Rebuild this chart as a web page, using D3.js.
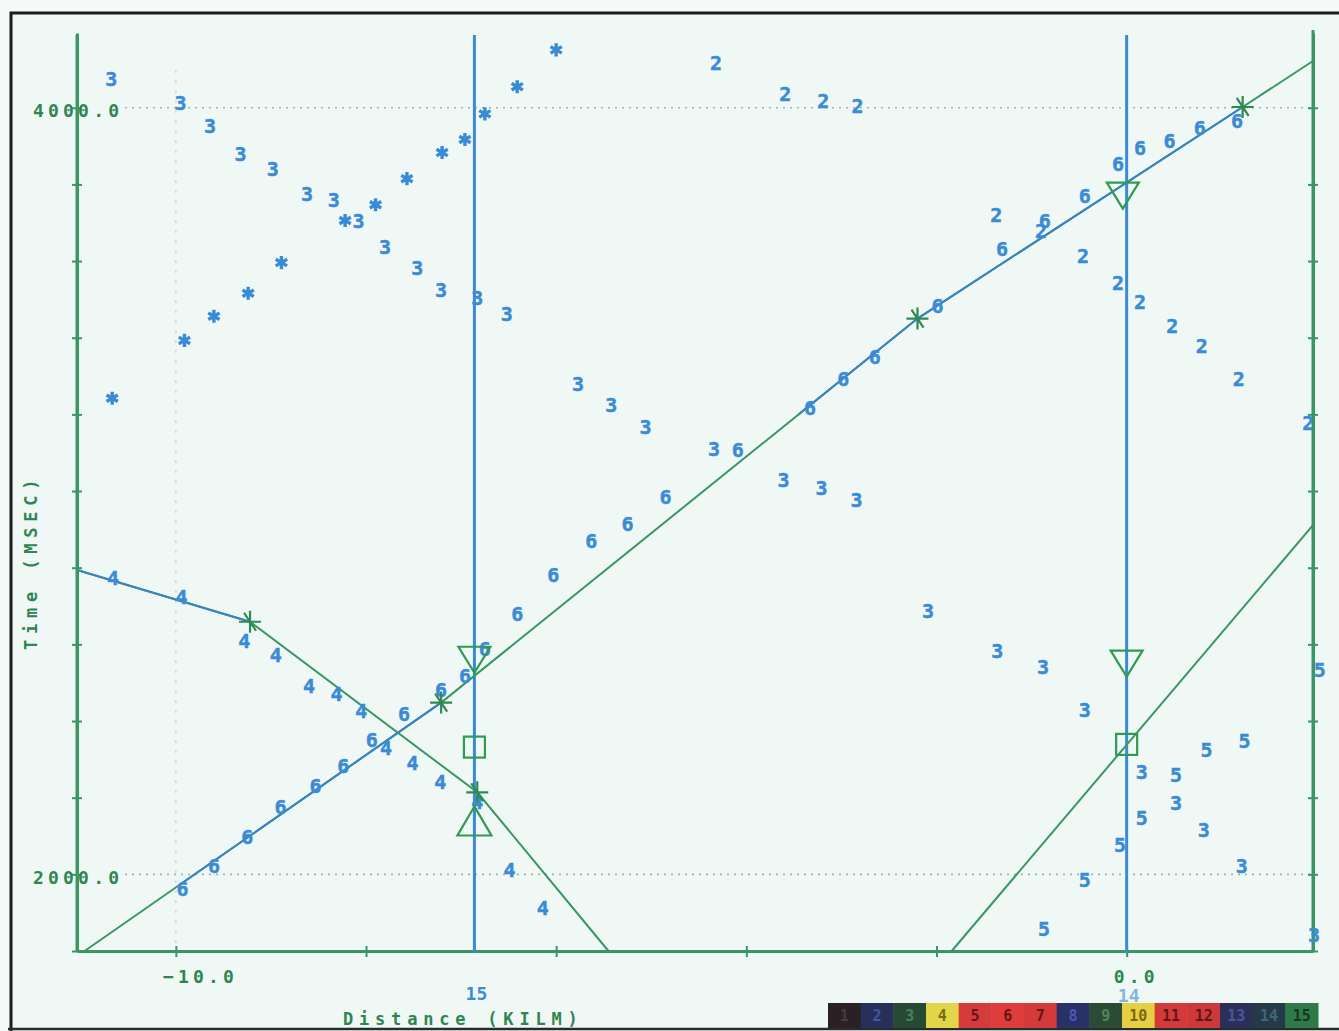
<!DOCTYPE html>
<html>
<head>
<meta charset="utf-8">
<script src="https://cdn.jsdelivr.net/npm/d3@7"></script>
<style>
  html, body { margin: 0; padding: 0; background: #f7faf9; }
  svg { display: block; }
  .mono { font-family: "DejaVu Sans Mono", "Liberation Mono", monospace; }
</style>
</head>
<body>
<script>
// ---- travel-time picks (distance in km, time in ms) ----
const seriesAsterisk = [
  [-10.67, 3242], [-9.91, 3393], [-9.60, 3456], [-9.24, 3516], [-8.89, 3596],
  [-8.22, 3706], [-7.90, 3747], [-7.57, 3815], [-7.20, 3883], [-6.96, 3917],
  [-6.75, 3984], [-6.41, 4055], [-6.00, 4151]
];
const series2 = [
  [-4.32, 4117], [-3.59, 4036], [-3.19, 4018], [-2.83, 4005], [-1.37, 3721],
  [-0.90, 3680], [-0.46, 3614], [-0.09, 3542], [0.14, 3495], [0.48, 3430],
  [0.79, 3378], [1.18, 3294], [1.91, 3177]
];
const series3 = [
  [-10.68, 4075], [-9.95, 4013], [-9.64, 3953], [-9.32, 3880], [-8.98, 3841],
  [-8.62, 3776], [-8.34, 3760], [-8.08, 3706], [-7.80, 3638], [-7.46, 3583],
  [-7.21, 3526], [-6.83, 3505], [-6.52, 3463], [-5.77, 3279], [-5.42, 3226],
  [-5.06, 3167], [-4.34, 3109], [-3.61, 3029], [-3.21, 3008], [-2.84, 2977],
  [-2.09, 2687], [-1.36, 2583], [-0.88, 2542], [-0.44, 2430], [0.16, 2268],
  [0.52, 2187], [0.81, 2115], [1.21, 2023], [1.97, 1841]
];
const series4 = [
  [-10.66, 2773], [-9.94, 2724], [-9.28, 2609], [-8.95, 2573], [-8.60, 2492],
  [-8.31, 2471], [-8.05, 2427], [-7.79, 2331], [-7.51, 2292], [-7.22, 2242],
  [-6.83, 2190], [-6.49, 2013], [-6.14, 1914]
];
const series5 = [
  [-0.87, 1857], [-0.44, 1987], [-0.07, 2076], [0.16, 2148], [0.52, 2260],
  [0.84, 2326], [1.24, 2349], [2.03, 2534]
];
const series6 = [
  [-9.93, 1961], [-9.60, 2021], [-9.25, 2099], [-8.90, 2177], [-8.53, 2232],
  [-8.24, 2284], [-7.94, 2352], [-7.60, 2419], [-7.21, 2482], [-6.96, 2518],
  [-6.75, 2589], [-6.41, 2680], [-6.03, 2781], [-5.63, 2870], [-5.25, 2914],
  [-4.85, 2984], [-4.09, 3107], [-3.33, 3216], [-2.98, 3292], [-2.65, 3351],
  [-1.99, 3484], [-1.31, 3633], [-0.86, 3705], [-0.44, 3771], [-0.09, 3854],
  [0.14, 3896], [0.45, 3914], [0.77, 3948], [1.16, 3966]
];
const markerSeries = [
  { label: "3", points: series3 },
  { label: "2", points: series2 },
  { label: "4", points: series4 },
  { label: "5", points: series5 },
  { label: "6", points: series6 }
];

// ---- fitted travel-time branches ----
const lineA = [[-10.96, 1800], [-7.21, 2448], [-2.20, 3450], [1.22, 4002], [1.96, 4122]];
const lineB = [[-11.04, 2794], [-9.22, 2659], [-6.83, 2214], [-5.45, 1800]];
const lineC = [[-1.84, 1800], [1.96, 2911]];
const branchVertices = [[-9.22, 2659], [-7.21, 2448], [-6.83, 2214], [-2.20, 3450], [1.22, 4002]];
// distance spans of branches traced over by the series-6 pen
const spansA = [[-9.95, -7.21], [-3.45, 1.22]];
const spansB = [[-11.04, -9.22]];

// ---- shot points ----
const shotDistances = [-6.86, 0];
const shotLabels = ["15", "14"];
const downTriangles = [[-6.86, 2526], [-0.04, 3737], [0, 2516]];
const upTriangles = [[-6.86, 2177]];
const squares = [[-6.86, 2332], [0, 2339]];

// ---- axes ----
const xDomain = [-11.04, 1.96];
const yDomain = [1800, 4195];
const xTicks = [-10, -8, -6, -4, -2, 0];
const xLabelled = [-10, 0];
const yTicks = [1800, 2000, 2200, 2400, 2600, 2800, 3000, 3200, 3400, 3600, 3800, 4000];
const yLabelled = [2000, 4000];
const xTitle = "Distance (KILM)";
const yTitle = "Time (MSEC)";

// ---- pen colour strip ----
const stripLabels = ["1", "2", "3", "4", "5", "6", "7", "8", "9", "10", "11", "12", "13", "14", "15"];
const stripColors = ["#2b2024", "#27305a", "#264a33", "#e3d54a", "#d63b3b", "#dd3d3d", "#d53a3a",
                     "#2a3068", "#2c4b35", "#e6cf42", "#d33a3a", "#cd3838", "#2a3058", "#243a48", "#2f7a48"];

const W = 1339, H = 1031;
const GREEN = "#3a9662", GREEN_TXT = "#2f8552", BLUE = "#3a8bd6";

const svg = d3.select("body").append("svg").attr("width", W).attr("height", H);

svg.append("rect").attr("x", 10).attr("y", 13).attr("width", W - 10).attr("height", H - 13)
  .attr("fill", "#f0f8f5");

// sheet frame
svg.append("path").attr("d", `M11,${H} V13 H${W}`).attr("fill", "none")
  .attr("stroke", "#1c1c1c").attr("stroke-width", 3);
svg.append("line").attr("x1", 8).attr("x2", W).attr("y1", 1029).attr("y2", 1029)
  .attr("stroke", "#2a2a2a").attr("stroke-width", 2.5);

const x = d3.scaleLinear().domain(xDomain).range([77, 1313]);
const y = d3.scaleLinear().domain(yDomain).range([951, 33]);

// grid
svg.append("g").selectAll("line").data(yLabelled).join("line")
  .attr("x1", 125).attr("x2", x(xDomain[1]))
  .attr("y1", d => y(d)).attr("y2", d => y(d))
  .attr("stroke", "#9db3ad").attr("stroke-width", 1.6).attr("stroke-dasharray", "2,5");
svg.append("line").attr("x1", x(-10)).attr("x2", x(-10)).attr("y1", 70).attr("y2", y(yDomain[0]))
  .attr("stroke", "#cfdcd8").attr("stroke-width", 1.5).attr("stroke-dasharray", "3,7");

// axes
function styleAxis(g, crossAttr) {
  g.select(".domain").attr("stroke", GREEN).attr("stroke-width", 3);
  g.selectAll(".tick line").attr("stroke", GREEN).attr("stroke-width", 2).attr(crossAttr, 5);
  g.selectAll(".tick text").remove();
}
svg.append("g").attr("transform", "translate(77,0)")
  .call(d3.axisLeft(y).tickValues(yTicks).tickSize(5).tickSizeOuter(0))
  .call(g => styleAxis(g, "x1"));
svg.append("g").attr("transform", "translate(1313,0)")
  .call(d3.axisRight(y).tickValues(yTicks).tickSize(5).tickSizeOuter(0))
  .call(g => styleAxis(g, "x1"))
  .call(g => g.selectAll(".tick line").attr("x1", -5));
svg.append("g").attr("transform", "translate(0,951)")
  .call(d3.axisBottom(x).tickValues(xTicks).tickSize(6).tickSizeOuter(0))
  .call(g => styleAxis(g, "y1"))
  .call(g => g.selectAll(".tick line").attr("y1", -5));
// vertical axes run slightly above the plot box
svg.append("line").attr("x1", 77).attr("x2", 77).attr("y1", 35).attr("y2", 951)
  .attr("stroke", GREEN).attr("stroke-width", 3);
svg.append("line").attr("x1", 1313).attr("x2", 1313).attr("y1", 30).attr("y2", 951)
  .attr("stroke", GREEN).attr("stroke-width", 3);

// tick labels
const fmt = d3.format(".1f");
svg.append("g").selectAll("text").data(yLabelled).join("text")
  .attr("class", "mono").attr("x", 33).attr("y", d => y(d) + 3)
  .attr("dominant-baseline", "central")
  .attr("font-size", 18).attr("font-weight", "bold").attr("letter-spacing", 4.2)
  .attr("fill", GREEN_TXT).text(d => fmt(d));
svg.append("g").selectAll("text").data(xLabelled).join("text")
  .attr("class", "mono").attr("x", d => x(d) - 13).attr("y", 976)
  .attr("dominant-baseline", "central")
  .attr("font-size", 18).attr("font-weight", "bold").attr("letter-spacing", 4.2)
  .attr("fill", GREEN_TXT).text(d => fmt(d));

// titles
svg.append("text").attr("class", "mono").attr("x", 343).attr("y", 1019)
  .attr("dominant-baseline", "central")
  .attr("font-size", 17).attr("font-weight", "bold").attr("letter-spacing", 5.8)
  .attr("fill", GREEN_TXT).text(xTitle);
svg.append("text").attr("class", "mono")
  .attr("transform", "translate(31,650) rotate(-90)")
  .attr("dominant-baseline", "central")
  .attr("font-size", 17).attr("font-weight", "bold").attr("letter-spacing", 5.8)
  .attr("fill", GREEN_TXT).text(yTitle);

// shot lines
svg.append("g").selectAll("line").data(shotDistances).join("line")
  .attr("x1", d => x(d)).attr("x2", d => x(d)).attr("y1", 35).attr("y2", 953)
  .attr("stroke", BLUE).attr("stroke-width", 3);
svg.append("g").selectAll("text").data(shotDistances).join("text")
  .attr("class", "mono").attr("x", d => x(d) + 2).attr("y", (d, i) => i === 0 ? 993 : 995)
  .attr("text-anchor", "middle").attr("dominant-baseline", "central")
  .attr("font-size", 18).attr("font-weight", "bold")
  .attr("fill", BLUE).attr("opacity", (d, i) => i === 0 ? 1 : 0.6)
  .text((d, i) => shotLabels[i]);

// branches
const line = d3.line().x(d => x(d[0])).y(d => y(d[1]));
const branches = svg.append("g").attr("fill", "none");
[lineA, lineB, lineC].forEach(pts => {
  branches.append("path").attr("d", line(pts)).attr("stroke", GREEN).attr("stroke-width", 2);
});
const defs = svg.append("defs");
function overlay(pts, spans, id) {
  const cp = defs.append("clipPath").attr("id", id);
  spans.forEach(s => cp.append("rect").attr("x", x(s[0])).attr("width", x(s[1]) - x(s[0]))
    .attr("y", 0).attr("height", H));
  branches.append("path").attr("d", line(pts)).attr("clip-path", `url(#${id})`)
    .attr("stroke", "#3a84c6").attr("stroke-width", 2);
}
overlay(lineA, spansA, "clipA");
overlay(lineB, spansB, "clipB");

// numbered picks
markerSeries.forEach(s => {
  svg.append("g").selectAll("text").data(s.points).join("text")
    .attr("class", "mono").attr("x", d => x(d[0])).attr("y", d => y(d[1]))
    .attr("text-anchor", "middle").attr("dy", "0.36em")
    .attr("font-size", 20).attr("font-weight", "bold").attr("fill", BLUE)
    .attr("stroke", BLUE).attr("stroke-width", 0.5)
    .text(s.label);
});
svg.append("g").selectAll("path").data(seriesAsterisk).join("path")
  .attr("transform", d => `translate(${x(d[0])},${y(d[1])})`)
  .attr("d", d3.symbol(d3.symbolAsterisk, 120))
  .attr("fill", "none").attr("stroke", BLUE).attr("stroke-width", 3.4);

// branch vertices
const vert = svg.append("g").attr("stroke", "#2f8a50").attr("stroke-width", 2.2).attr("fill", "none");
vert.selectAll("path").data(branchVertices).join("path")
  .attr("transform", d => `translate(${x(d[0])},${y(d[1])})`)
  .attr("d", "M-11,0H11M0,-11V11M-6,-9L6,9");

// shot-point symbols
const sym = svg.append("g").attr("stroke", "#2f9a52").attr("stroke-width", 2.2).attr("fill", "none");
sym.selectAll(".dn").data(downTriangles).join("path").attr("class", "dn")
  .attr("transform", d => `translate(${x(d[0])},${y(d[1])})`)
  .attr("d", "M0,0L-16,-26H16Z");
sym.selectAll(".up").data(upTriangles).join("path").attr("class", "up")
  .attr("transform", d => `translate(${x(d[0])},${y(d[1])})`)
  .attr("d", "M0,0L-17,29H17Z");
sym.selectAll(".sq").data(squares).join("rect").attr("class", "sq")
  .attr("x", d => x(d[0]) - 10.5).attr("y", d => y(d[1]) - 10.5)
  .attr("width", 21).attr("height", 21);

// pen colour strip
const band = d3.scaleBand().domain(stripLabels).range([828, 1318]).padding(0);
const strip = svg.append("g");
strip.selectAll("rect").data(stripLabels).join("rect")
  .attr("x", d => band(d)).attr("y", 1003).attr("width", band.bandwidth() + 0.5).attr("height", 25)
  .attr("fill", (d, i) => stripColors[i]);
strip.selectAll("text").data(stripLabels).join("text")
  .attr("class", "mono").attr("x", d => band(d) + band.bandwidth() / 2).attr("y", 1016)
  .attr("text-anchor", "middle").attr("dominant-baseline", "central")
  .attr("font-size", 15).attr("font-weight", "bold")
  .attr("fill", (d, i) => {
    const c = d3.hsl(stripColors[i]);
    return c.l < 0.3 ? c.brighter(1.6).formatHex() : c.darker(2.2).formatHex();
  })
  .text(d => d);
</script>
</body>
</html>
